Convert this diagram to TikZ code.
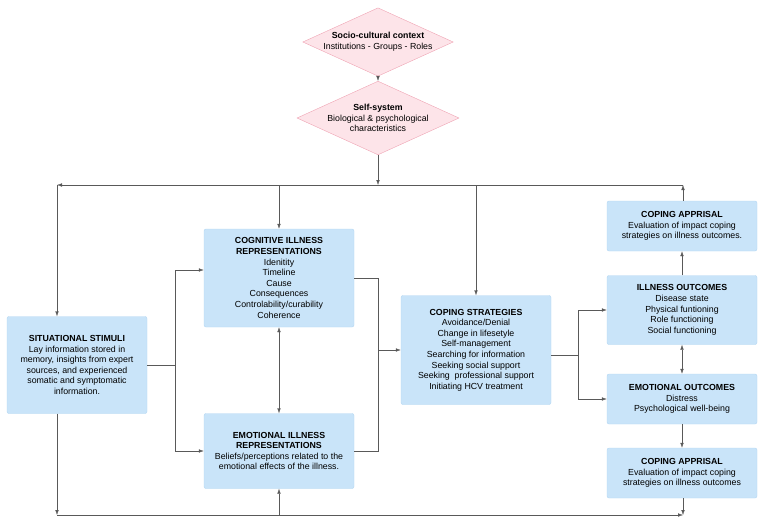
\documentclass[tikz,border=0pt]{standalone}
\usepackage{fontspec}
\setmainfont{Liberation Sans}
\usetikzlibrary{shapes.geometric,arrows.meta}
\definecolor{boxblue}{HTML}{C9E4F9}
\definecolor{boxline}{HTML}{B3D6F2}
\definecolor{ctxpink}{HTML}{FDE4E9}
\definecolor{ctxline}{HTML}{EFA3B3}
\begin{document}
\begin{tikzpicture}[x=1pt,y=-1pt,
        block/.style={rectangle,rounded corners=2pt,fill=boxblue,draw=boxline,align=center,
            font=\fontsize{8.8}{10.6}\selectfont,inner sep=2pt},
        context/.style={diamond,aspect=2.2,fill=ctxpink,draw=ctxline,align=center,
            font=\fontsize{8.8}{10.6}\selectfont,inner sep=0pt,minimum width=150pt,minimum height=68pt},
        flow/.style={draw=black!65,thin,-{Latex[length=5pt,width=3.5pt]}},
        link/.style={draw=black!65,thin}
    ]
    \useasboundingbox (0,0) rectangle (763,520);

    \node[context] (socio) at (378,42) {\textbf{Socio-cultural context}\\Institutions - Groups - Roles};
    \node[context] (self) at (378,118) {\textbf{Self-system}\\Biological \& psychological\\characteristics};

    \node[block,minimum width=140pt,minimum height=97pt] (stimuli) at (77,365)
        {\textbf{SITUATIONAL STIMULI}\\Lay information stored in\\memory, insights from expert\\sources, and experienced\\somatic and symptomatic\\information.};
    \node[block,minimum width=150pt,minimum height=98pt] (cognitive) at (279,278)
        {\textbf{COGNITIVE ILLNESS}\\\textbf{REPRESENTATIONS}\\Idenitity\\Timeline\\Cause\\Consequences\\Controlability/curability\\Coherence};
    \node[block,minimum width=150pt,minimum height=75pt] (emotional) at (279,451)
        {\textbf{EMOTIONAL ILLNESS}\\\textbf{REPRESENTATIONS}\\Beliefs/perceptions related to the\\emotional effects of the illness.};
    \node[block,minimum width=150pt,minimum height=109pt] (coping) at (476,350)
        {\textbf{COPING STRATEGIES}\\Avoidance/Denial\\Change in lifesetyle\\Self-management\\Searching for information\\Seeking social support\\Seeking\ \ professional support\\Initiating HCV treatment};
    \node[block,minimum width=150pt,minimum height=50pt] (apprtop) at (682,226)
        {\textbf{COPING APPRISAL}\\Evaluation of impact coping\\strategies on illness outcomes.};
    \node[block,minimum width=150pt,minimum height=69pt] (illness) at (682,310)
        {\textbf{ILLNESS OUTCOMES}\\Disease state\\Physical funtioning\\Role functioning\\Social functioning};
    \node[block,minimum width=150pt,minimum height=50pt] (emoout) at (682,399)
        {\textbf{EMOTIONAL OUTCOMES}\\Distress\\Psychological well-being};
    \node[block,minimum width=150pt,minimum height=50pt] (apprbot) at (682,473)
        {\textbf{COPING APPRISAL}\\Evaluation of impact coping\\strategies on illness outcomes};

    % feedback loops
    \coordinate (topR) at (683,185);
    \coordinate (topL) at (57,185);
    \coordinate (botL) at (57,515);
    \coordinate (botR) at (683,515);

    \draw[flow] (socio) -- (self);
    \draw[flow] (self) -- (378,185);
    \draw[flow] (apprtop.north -| topR) -- (topR);
    \draw[flow] (topR) -- (topL);
    \draw[flow] (topL) -- (stimuli.north -| topL);
    \draw[flow] (cognitive.north |- topL) -- (cognitive);
    \draw[flow] (coping.north |- topL) -- (coping);

    \draw[flow] (stimuli.south -| botL) -- (botL);
    \draw[flow] (botL) -- (botR);
    \draw[flow] (apprbot.south -| botR) -- (botR);
    \draw[flow] (emotional.south |- botL) -- (emotional);

    % representations
    \draw[link] (stimuli.east) -- (175,365);
    \draw[flow] (175,365) |- (cognitive.west |- 0,270);
    \draw[flow] (175,365) |- (emotional.west);
    \draw[flow,{Latex[length=5pt,width=3.5pt]}-{Latex[length=5pt,width=3.5pt]}] (cognitive) -- (emotional);
    \draw[link] (cognitive.east) -| (378,350);
    \draw[link] (emotional.east) -| (378,350);
    \draw[flow] (378,350) -- (coping.west);

    % outcomes
    \draw[link] (coping.east |- 0,355) -- (578,355);
    \draw[flow] (578,355) |- (illness.west);
    \draw[flow] (578,355) |- (emoout.west);
    \draw[flow] (illness) -- (apprtop);
    \draw[flow,{Latex[length=5pt,width=3.5pt]}-{Latex[length=5pt,width=3.5pt]}] (illness) -- (emoout);
    \draw[flow] (emoout) -- (apprbot);
\end{tikzpicture}
\end{document}
